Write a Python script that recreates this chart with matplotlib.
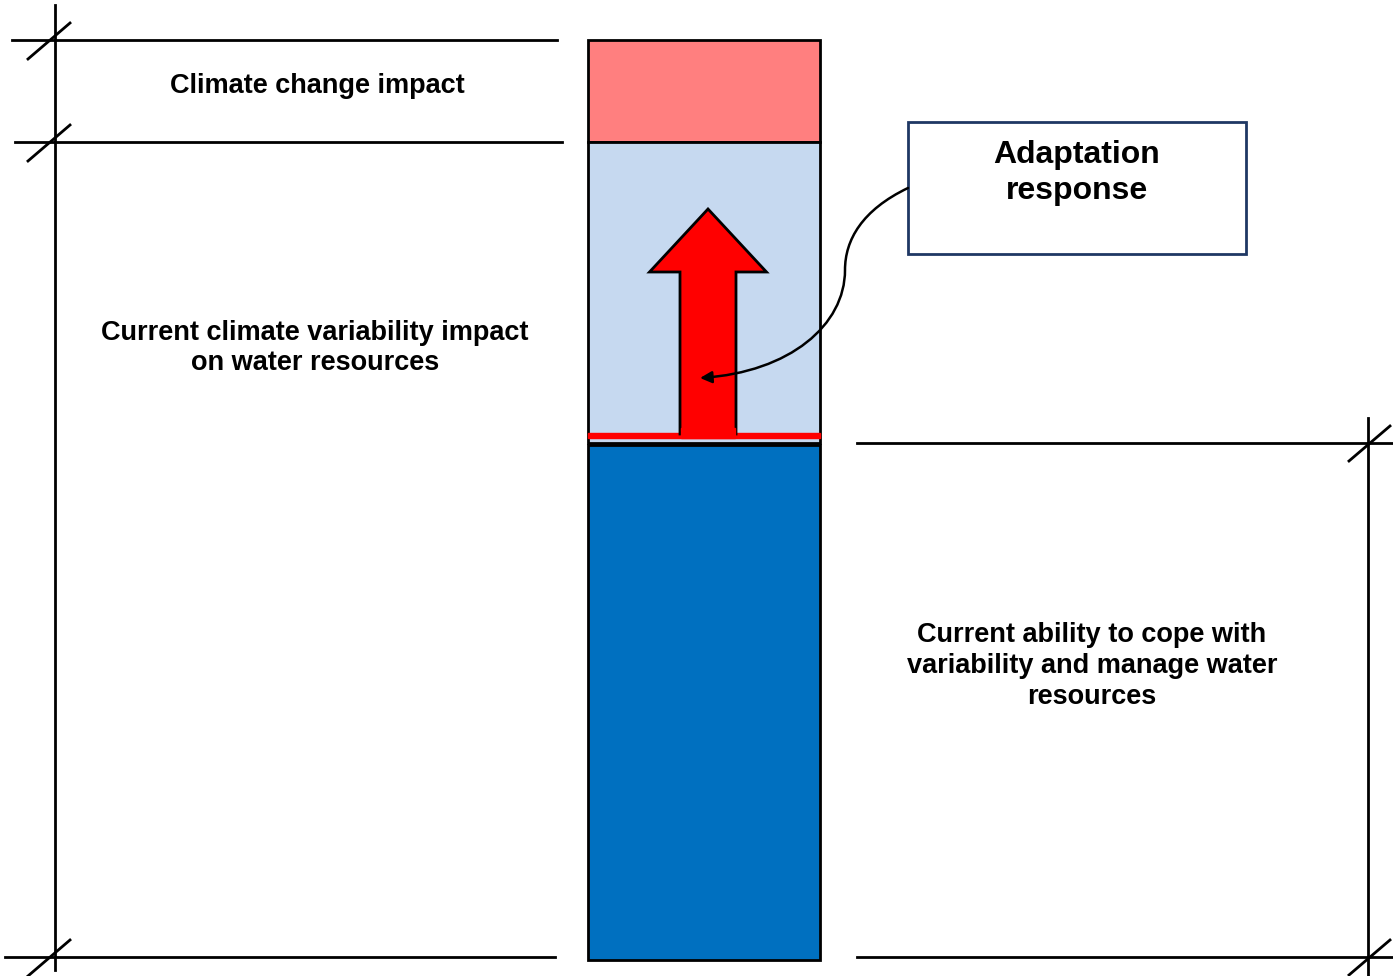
import numpy as np
import matplotlib
matplotlib.use("Agg")
from matplotlib import pyplot as plt
from matplotlib.patches import FancyArrow, FancyArrowPatch, Rectangle
from matplotlib.path import Path

# diagram levels (pixel units, y grows downwards)
bar_tops = [40, 142, 445]
bar_bottoms = [142, 443, 960]
bar_colors = ["#FF7F7F", "#C6D9F0", "#0070C0"]
bar_left, bar_right = 588, 820

left_levels = [40, 142, 957]
left_starts = [12, 15, 5]
left_ends = [557, 562, 555]
right_levels = [443, 957]

labels = ["Climate change impact",
          "Current climate variability impact\non water resources",
          "Current ability to cope with\nvariability and manage water\nresources"]
label_pos = [(317, 86), (315, 348), (1092, 666)]
label_spacing = [1.2, 1.2, 1.27]

box = (908, 122, 1246, 254)
box_label = "Adaptation\nresponse"

W, H = 1393, 976
fig = plt.figure(figsize=(W / 100, H / 100), dpi=100)
ax = fig.add_axes([0, 0, 1, 1])
ax.set_xlim(0, W)
ax.set_ylim(H, 0)
ax.axis("off")

lw = 2.0
# stacked bar
for top, bot, col in zip(bar_tops, bar_bottoms, bar_colors):
    ax.bar((bar_left + bar_right) / 2, bot - top, bottom=top, width=bar_right - bar_left,
           color=col, edgecolor="black", linewidth=lw, zorder=2)

# red baseline + arrow
ax.add_patch(Rectangle((bar_left, 433), bar_right - bar_left, 5, color="red", zorder=3))
ax.add_patch(FancyArrow(708, 434, 0, -225, width=56, head_width=117, head_length=63,
                        length_includes_head=True, facecolor="red", edgecolor="black",
                        linewidth=lw, zorder=4))
ax.add_patch(Rectangle((681, 428), 54, 10, color="red", zorder=5))

# left scale
ax.plot([55, 55], [5, 970], color="black", lw=lw)
for y, x0, x1 in zip(left_levels, left_starts, left_ends):
    ax.plot([x0, x1], [y, y], color="black", lw=lw)
    ax.plot([28, 70], [y + 19, y - 17], color="black", lw=lw)

# right scale
ax.plot([1368, 1368], [418, 976], color="black", lw=lw)
for y in right_levels:
    ax.plot([857, W], [y, y], color="black", lw=lw)
    ax.plot([1349, 1390], [y + 18, y - 17], color="black", lw=lw)

for txt, (x, y), ls in zip(labels, label_pos, label_spacing):
    ax.text(x, y, txt, ha="center", va="center", fontsize=19.5, fontweight="bold",
            family="Liberation Sans", linespacing=ls)

# adaptation box
x0, y0, x1, y1 = box
ax.add_patch(Rectangle((x0, y0), x1 - x0, y1 - y0, facecolor="white",
                       edgecolor="#1F3864", linewidth=lw, zorder=3))
ax.text((x0 + x1) / 2, 173, box_label, ha="center", va="center", fontsize=23,
        fontweight="bold", family="Liberation Sans", linespacing=1.3, zorder=4)

verts = [(908, 188), (862, 210), (845, 240), (845, 270),
         (845, 325), (790, 372), (700, 378)]
codes = [Path.MOVETO] + [Path.CURVE4] * 6
ax.add_patch(FancyArrowPatch(path=Path(verts, codes), arrowstyle="-|>,head_length=7,head_width=3.5",
                             color="black", lw=1.8, zorder=6))

plt.savefig("out.png", dpi=100)
plt.close()
